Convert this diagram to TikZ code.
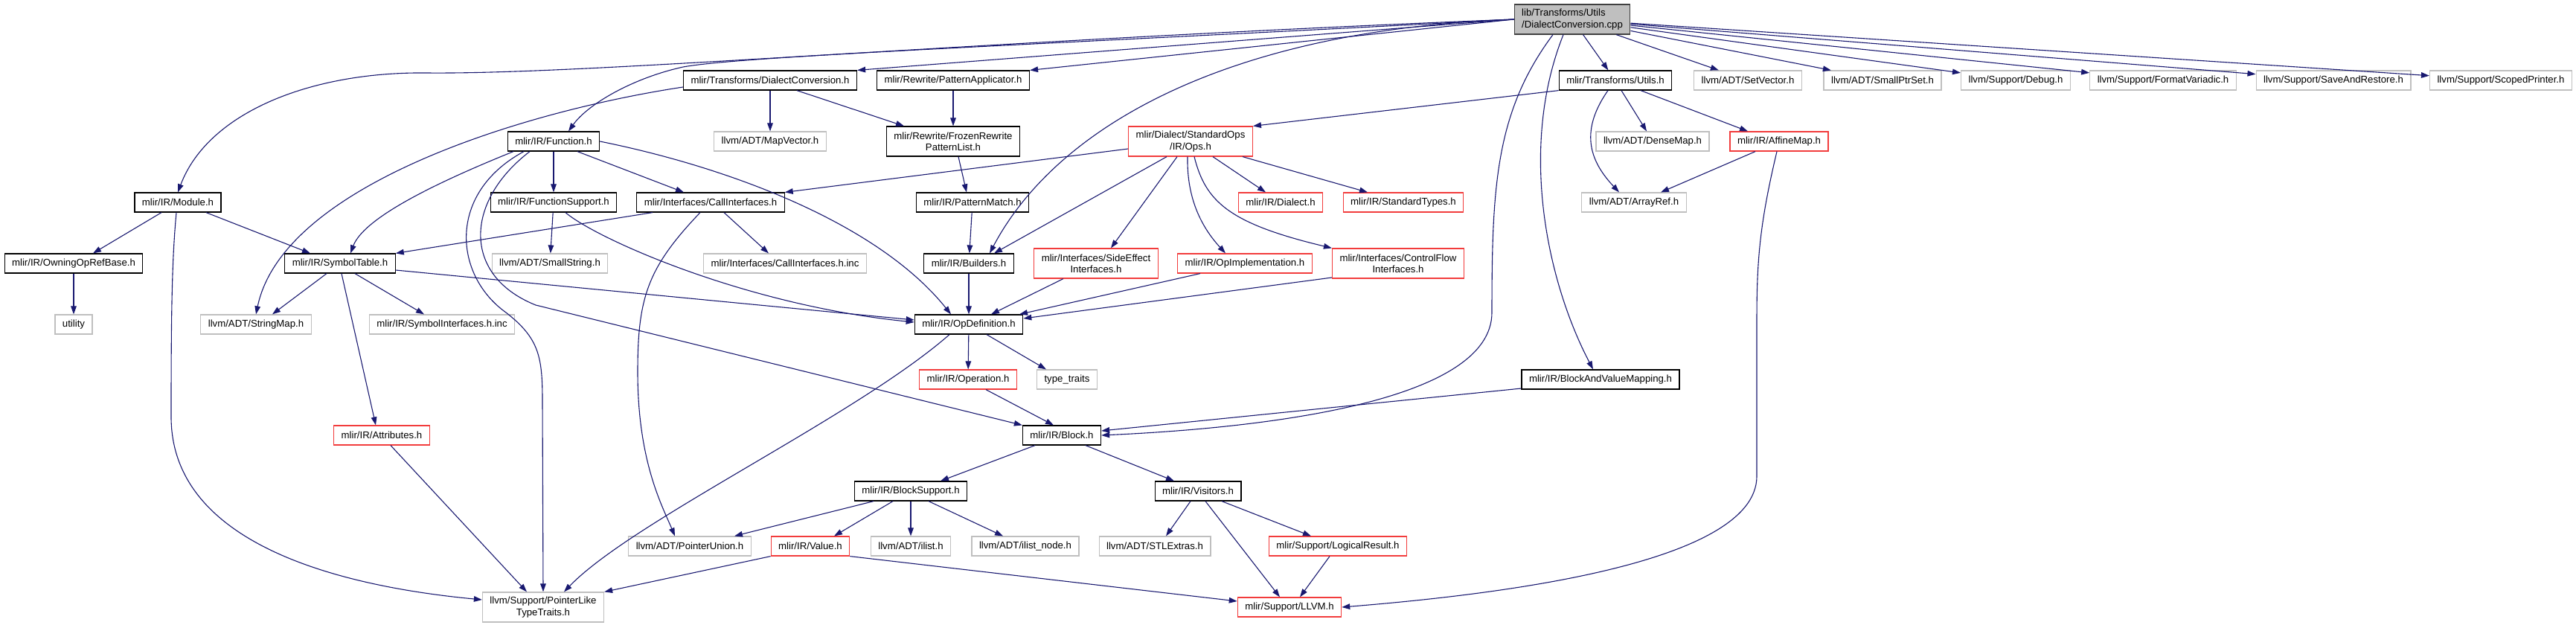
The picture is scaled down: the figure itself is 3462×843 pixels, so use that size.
\documentclass[tikz,border=0pt]{standalone}
\usepackage{fontspec}
\setmainfont{Liberation Sans}
\usetikzlibrary{arrows.meta}
\definecolor{edgeblue}{HTML}{191970}
\definecolor{extgray}{HTML}{BFBFBF}
\definecolor{truncred}{HTML}{F23C3C}
\definecolor{rootline}{HTML}{404040}

\begin{document}
\begin{tikzpicture}[x=0.5pt,y=-0.5pt,
    box/.style={draw=black,line width=0.6pt,fill=white,font=\fontsize{6.6}{7.7}\selectfont,inner xsep=5pt,inner ysep=0pt,minimum height=13pt,align=center},
    ext/.style={box,draw=extgray},
    trunc/.style={box,draw=truncred},
    tall/.style={minimum height=20pt},
    rootbox/.style={box,draw=rootline,fill=extgray,minimum height=20pt,align=left},
    dep/.style={draw=edgeblue,line width=0.55pt,-{Triangle[length=5.5pt,width=3.8pt]}}]
        \useasboundingbox (0,0) rectangle (3462,843);
        %file sorgente
        \node[rootbox] (root) at (2113,26) {lib/Transforms/Utils\\/DialectConversion.cpp};
        %primo livello
        \node[box] (dch) at (1035,108) {mlir/Transforms/DialectConversion.h};
        \node[box] (papp) at (1281,108) {mlir/Rewrite/PatternApplicator.h};
        \node[box] (tutils) at (2171,108) {mlir/Transforms/Utils.h};
        \node[ext] (setvec) at (2349,108) {llvm/ADT/SetVector.h};
        \node[ext] (smallptr) at (2530,108) {llvm/ADT/SmallPtrSet.h};
        \node[ext] (debug) at (2709,108) {llvm/Support/Debug.h};
        \node[ext] (fmtvar) at (2907,108) {llvm/Support/FormatVariadic.h};
        \node[ext] (saverest) at (3136,108) {llvm/Support/SaveAndRestore.h};
        \node[ext] (scoped) at (3361,108) {llvm/Support/ScopedPrinter.h};
        %secondo livello
        \node[box] (func) at (744,190) {mlir/IR/Function.h};
        \node[ext] (mapvec) at (1035,190) {llvm/ADT/MapVector.h};
        \node[box,tall] (frozen) at (1281,190) {mlir/Rewrite/FrozenRewrite\\PatternList.h};
        \node[trunc,tall] (stdops) at (1600,190) {mlir/Dialect/StandardOps\\/IR/Ops.h};
        \node[ext] (densemap) at (2221,190) {llvm/ADT/DenseMap.h};
        \node[trunc] (affine) at (2391,190) {mlir/IR/AffineMap.h};
        %terzo livello
        \node[box] (mod) at (239,272) {mlir/IR/Module.h};
        \node[box] (funcsup) at (744,272) {mlir/IR/FunctionSupport.h};
        \node[box] (callif) at (955,272) {mlir/Interfaces/CallInterfaces.h};
        \node[box] (patmatch) at (1307,272) {mlir/IR/PatternMatch.h};
        \node[trunc] (dialect) at (1721,272) {mlir/IR/Dialect.h};
        \node[trunc] (stdtypes) at (1886,272) {mlir/IR/StandardTypes.h};
        \node[ext] (arrayref) at (2196,272) {llvm/ADT/ArrayRef.h};
        %quarto livello
        \node[box] (owning) at (99,354) {mlir/IR/OwningOpRefBase.h};
        \node[box] (symtab) at (457,354) {mlir/IR/SymbolTable.h};
        \node[ext] (smallstr) at (739,354) {llvm/ADT/SmallString.h};
        \node[ext] (callinc) at (1055,354) {mlir/Interfaces/CallInterfaces.h.inc};
        \node[box] (builders) at (1302,354) {mlir/IR/Builders.h};
        \node[trunc,tall] (sideeff) at (1473,354) {mlir/Interfaces/SideEffect\\Interfaces.h};
        \node[trunc] (opimpl) at (1673,354) {mlir/IR/OpImplementation.h};
        \node[trunc,tall] (ctrlflow) at (1879,354) {mlir/Interfaces/ControlFlow\\Interfaces.h};
        %quinto livello
        \node[ext] (utility) at (99,436) {utility};
        \node[ext] (strmap) at (344,436) {llvm/ADT/StringMap.h};
        \node[ext] (syminc) at (594,436) {mlir/IR/SymbolInterfaces.h.inc};
        \node[box] (opdef) at (1302,436) {mlir/IR/OpDefinition.h};
        \node[trunc] (operation) at (1301,510) {mlir/IR/Operation.h};
        \node[ext] (typetraits) at (1434,510) {type\_traits};
        \node[box] (bvmap) at (2151,510) {mlir/IR/BlockAndValueMapping.h};
        %blocchi
        \node[trunc] (attrs) at (513,585) {mlir/IR/Attributes.h};
        \node[box] (block) at (1427,585) {mlir/IR/Block.h};
        \node[box] (blocksup) at (1224,660) {mlir/IR/BlockSupport.h};
        \node[box] (visitors) at (1610,660) {mlir/IR/Visitors.h};
        %foglie
        \node[ext] (ptrunion) at (927,734) {llvm/ADT/PointerUnion.h};
        \node[trunc] (value) at (1089,734) {mlir/IR/Value.h};
        \node[ext] (ilist) at (1224,734) {llvm/ADT/ilist.h};
        \node[ext] (ilistnode) at (1378,734) {llvm/ADT/ilist\_node.h};
        \node[ext] (stlextras) at (1552,734) {llvm/ADT/STLExtras.h};
        \node[trunc] (logres) at (1798,734) {mlir/Support/LogicalResult.h};
        \node[ext,tall] (ptrlike) at (730,816) {llvm/Support/PointerLike\\TypeTraits.h};
        \node[trunc] (llvmh) at (1733,816) {mlir/Support/LLVM.h};

        %include del file sorgente
        \draw[dep] (root.west) .. controls (1300,55) and (800,100) .. (574,98) .. controls (420,96) and (280,150) .. (mod.north);
        \draw[dep] (root.west) .. controls (1400,60) and (1000,75) .. (918,90) .. controls (850,105) and (790,140) .. ([xshift=10pt]func.north);
        \draw[dep] (root.west) -- (dch.north east);
        \draw[dep] (root.west) -- (papp.north east);
        \draw[dep] (root.west) .. controls (1650,40) and (1420,170) .. ([xshift=14pt]builders.north);
        \draw[dep] (root) -- (tutils);
        \foreach \n in {setvec,smallptr,debug,fmtvar,saverest,scoped}
            \draw[dep] (root) -- (\n);
        \draw[dep] ([xshift=-13pt]root.south) .. controls (2010,150) and (2005,250) .. (2005,420) .. controls (2005,540) and (1700,575) .. (block.east);
        \draw[dep] ([xshift=-6pt]root.south) .. controls (2040,200) and (2080,380) .. ([xshift=-5pt]bvmap.north);
        %utils
        \draw[dep] (tutils.south west) -- (stdops.north east);
        \draw[dep] ([xshift=4pt]tutils.south) -- ([xshift=-4pt]densemap.north);
        \draw[dep] ([xshift=-5pt]tutils.south) .. controls (2120,180) and (2140,220) .. ([xshift=-10pt]arrayref.north);
        \draw[dep] ([xshift=17pt]tutils.south) -- ([xshift=-21pt]affine.north);
        \draw[dep] ([xshift=-16pt]affine.south) -- ([xshift=18pt]arrayref.north);
        \draw[dep] ([xshift=-1.5pt]affine.south) .. controls (2365,300) and (2361,350) .. (2361,430) -- (2361,640) .. controls (2361,760) and (2000,800) .. (llvmh.east);
        %ops
        \draw[dep] ([yshift=-5pt]stdops.west) -- (callif.north east);
        \draw[dep] ([xshift=-16pt]stdops.south) -- ([xshift=17pt]builders.north);
        \draw[dep] ([xshift=-9pt]stdops.south) -- ([xshift=10pt]sideeff.north);
        \draw[dep] ([xshift=-2pt]stdops.south) .. controls (1595,260) and (1610,300) .. ([xshift=-13pt]opimpl.north);
        \draw[dep] ([xshift=2.5pt]stdops.south) .. controls (1620,270) and (1650,300) .. (ctrlflow.north west);
        \draw[dep] ([xshift=15pt]stdops.south) -- ([xshift=-10pt]dialect.north);
        \draw[dep] ([xshift=35pt]stdops.south) -- ([xshift=-24pt]stdtypes.north);
        %dialect conversion
        \draw[dep] (dch) -- (mapvec);
        \draw[dep] ([xshift=18pt]dch.south) -- ([xshift=-33pt]frozen.north);
        \draw[dep] ([yshift=-4.5pt]dch.west) .. controls (700,150) and (380,250) .. (strmap.north);
        \draw[dep] (papp) -- (frozen);
        \draw[dep] ([xshift=3.5pt]frozen.south) -- ([xshift=-4pt]patmatch.north);
        \draw[dep] (patmatch) -- (builders);
        \draw[dep] (builders) -- (opdef);
        %function
        \draw[dep] ([xshift=-27pt]func.south) .. controls (600,240) and (490,290) .. ([xshift=7pt]symtab.north);
        \draw[dep] (func) -- (funcsup);
        \draw[dep] ([xshift=16pt]func.south) -- ([xshift=-18pt]callif.north);
        \draw[dep] (func.east) .. controls (980,225) and (1180,300) .. ([xshift=-12pt]opdef.north);
        \draw[dep] ([xshift=-20pt]func.south) .. controls (600,260) and (610,370) .. (680,420) .. controls (725,455) and (729,480) .. (729,540) -- (ptrlike.north);
        \draw[dep] ([xshift=-16pt]func.south) .. controls (625,270) and (620,370) .. (720,410) -- (block.north west);
        %module
        \draw[dep] ([xshift=-11pt]mod.south) -- ([xshift=13pt]owning.north);
        \draw[dep] ([xshift=19pt]mod.south) -- ([xshift=-20pt]symtab.north);
        \draw[dep] ([xshift=-1pt]mod.south) .. controls (231,350) and (230,420) .. (230,560) .. controls (230,740) and (480,790) .. ([yshift=5pt]ptrlike.west);
        \draw[dep] (owning) -- (utility);
        %symbol table
        \draw[dep] ([xshift=-9pt]symtab.south) -- ([xshift=11pt]strmap.north);
        \draw[dep] ([xshift=10pt]symtab.south) -- ([xshift=-12pt]syminc.north);
        \draw[dep] ([xshift=1pt]symtab.south) -- ([xshift=-4pt]attrs.north);
        \draw[dep] ([yshift=-4.5pt]symtab.east) -- ([yshift=3pt]opdef.west);
        \draw[dep] (funcsup) -- (smallstr);
        \draw[dep] ([xshift=8pt]funcsup.south) .. controls (800,320) and (1000,410) .. ([yshift=1.5pt]opdef.west);
        %call interfaces
        \draw[dep] ([xshift=-39pt]callif.south) -- (symtab.north east);
        \draw[dep] ([xshift=9pt]callif.south) -- ([xshift=-11pt]callinc.north);
        \draw[dep] ([xshift=-7pt]callif.south) .. controls (870,360) and (857,400) .. (857,500) .. controls (857,620) and (890,680) .. ([xshift=-10pt]ptrunion.north);
        %op definition
        \draw[dep] (opdef) -- (operation);
        \draw[dep] ([xshift=12pt]opdef.south) -- ([xshift=-14pt]typetraits.north);
        \draw[dep] ([xshift=-13pt]opdef.south) .. controls (1150,560) and (850,700) .. ([xshift=14pt]ptrlike.north);
        \draw[dep] ([xshift=12pt]operation.south) -- ([xshift=-5.5pt]block.north);
        \draw[dep] ([yshift=-6pt]bvmap.west) -- ([yshift=3pt]block.east);
        \draw[dep] ([xshift=-22pt]sideeff.south) -- ([xshift=15pt]opdef.north);
        \draw[dep] ([xshift=-30pt]opimpl.south) -- ([xshift=34pt]opdef.north);
        \draw[dep] ([yshift=-9.5pt]ctrlflow.west) -- ([yshift=4pt]opdef.east);
        %block
        \draw[dep] ([xshift=-18pt]block.south) -- ([xshift=20pt]blocksup.north);
        \draw[dep] ([xshift=16pt]block.south) -- ([xshift=-16pt]visitors.north);
        \draw[dep] ([xshift=-25pt]blocksup.south) -- ([xshift=30pt]ptrunion.north);
        \draw[dep] ([xshift=-12pt]blocksup.south) -- ([xshift=16pt]value.north);
        \draw[dep] (blocksup) -- (ilist);
        \draw[dep] ([xshift=12pt]blocksup.south) -- ([xshift=-15pt]ilistnode.north);
        \draw[dep] (value.south west) -- (ptrlike.north east);
        \draw[dep] (value.south east) -- ([yshift=4pt]llvmh.west);
        \draw[dep] ([xshift=-5pt]visitors.south) -- ([xshift=7.5pt]stlextras.north);
        \draw[dep] ([xshift=5pt]visitors.south) -- ([xshift=-6.5pt]llvmh.north);
        \draw[dep] ([xshift=16pt]visitors.south) -- ([xshift=-18pt]logres.north);
        \draw[dep] ([xshift=-5.5pt]logres.south) -- ([xshift=7pt]llvmh.north);
        \draw[dep] ([xshift=6pt]attrs.south) -- ([xshift=-11pt]ptrlike.north);
    \end{tikzpicture}
\end{document}
